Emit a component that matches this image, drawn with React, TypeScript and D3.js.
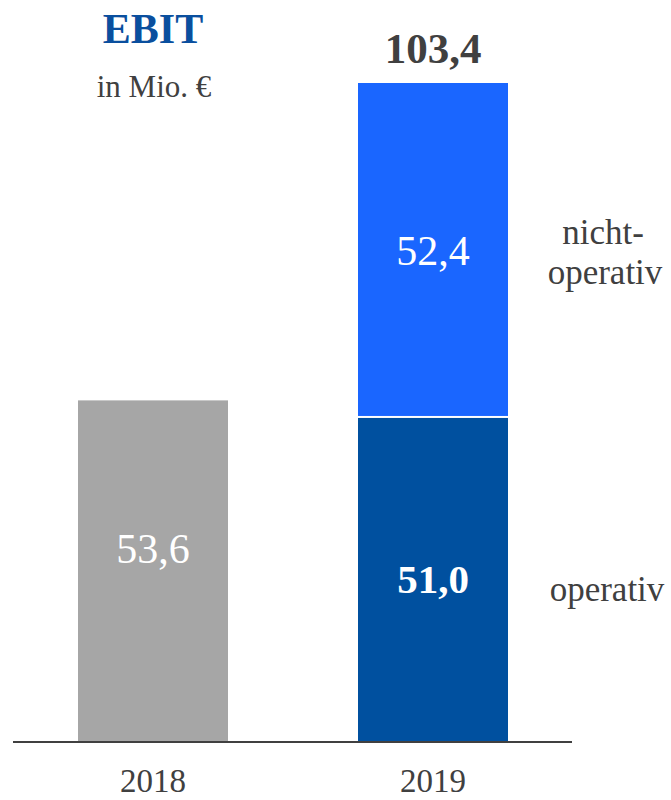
import React from "react";
import * as d3 from "d3";

const years = ["2018", "2019"];
const operativ = [53.6, 51.0];
const nichtOperativ = [0, 52.4];
const totals = [53.6, 103.4];
const valueLabels2018 = ["53,6"];
const valueLabels2019 = ["51,0", "52,4"];
const totalLabel2019 = "103,4";

const W = 671;
const H = 800;
const FONT = "'Liberation Serif', 'Times New Roman', serif";

export default function App() {
  const baseline = 742;
  const x = d3.scaleBand().domain(years).range([78, 508]).paddingInner(130 / 280).paddingOuter(0);
  const barW = x.bandwidth();
  const xPos = (i: number) => x(years[i]) as number;
  const y = d3.scaleLinear().domain([0, 103.4]).range([baseline, 83]);

  return (
    <svg width={W} height={H} style={{ display: "block", position: "absolute", left: 0, top: 0 }} fontFamily={FONT}>
      <rect width={W} height={H} fill="#fff" />
      <text x={153} y={43} textAnchor="middle" fontSize={42} fontWeight="bold" fill="#0a4f9e">EBIT</text>
      <text x={154} y={97} textAnchor="middle" fontSize={31} fill="#404040">in Mio. €</text>

      {/* 2018 bar */}
      <rect x={xPos(0)} y={y(operativ[0])} width={barW} height={baseline - y(operativ[0])} fill="#a6a6a6" />
      <text x={xPos(0) + barW / 2} y={563} textAnchor="middle" fontSize={42} fill="#fff">{valueLabels2018[0]}</text>

      {/* 2019 stacked */}
      <rect x={xPos(1)} y={y(operativ[1]) + 1} width={barW} height={baseline - y(operativ[1]) - 1} fill="#00509f" />
      <rect x={xPos(1)} y={y(operativ[1] + nichtOperativ[1])} width={barW} height={y(0) - y(nichtOperativ[1]) - 1} fill="#1a66ff" />
      <text x={xPos(1) + barW / 2} y={(y(operativ[1]) + baseline) / 2 + 14} textAnchor="middle" fontSize={41} fontWeight="bold" fill="#fff">{valueLabels2019[0]}</text>
      <text x={xPos(1) + barW / 2} y={(y(totals[1]) + y(operativ[1])) / 2 + 15} textAnchor="middle" fontSize={42} fill="#fff">{valueLabels2019[1]}</text>
      <text x={xPos(1) + barW / 2} y={63} textAnchor="middle" fontSize={43} fontWeight="bold" fill="#404040">{totalLabel2019}</text>

      {/* baseline */}
      <line x1={13} x2={572} y1={baseline} y2={baseline} stroke="#404040" strokeWidth={2} />

      {years.map((yr, i) => (
        <text key={yr} x={xPos(i) + barW / 2} y={792} textAnchor="middle" fontSize={33} fill="#404040">{yr}</text>
      ))}

      <text x={603} y={244} textAnchor="middle" fontSize={35} fill="#404040">nicht-</text>
      <text x={605} y={284} textAnchor="middle" fontSize={35} fill="#404040">operativ</text>
      <text x={607} y={601} textAnchor="middle" fontSize={35} fill="#404040">operativ</text>
    </svg>
  );
}
